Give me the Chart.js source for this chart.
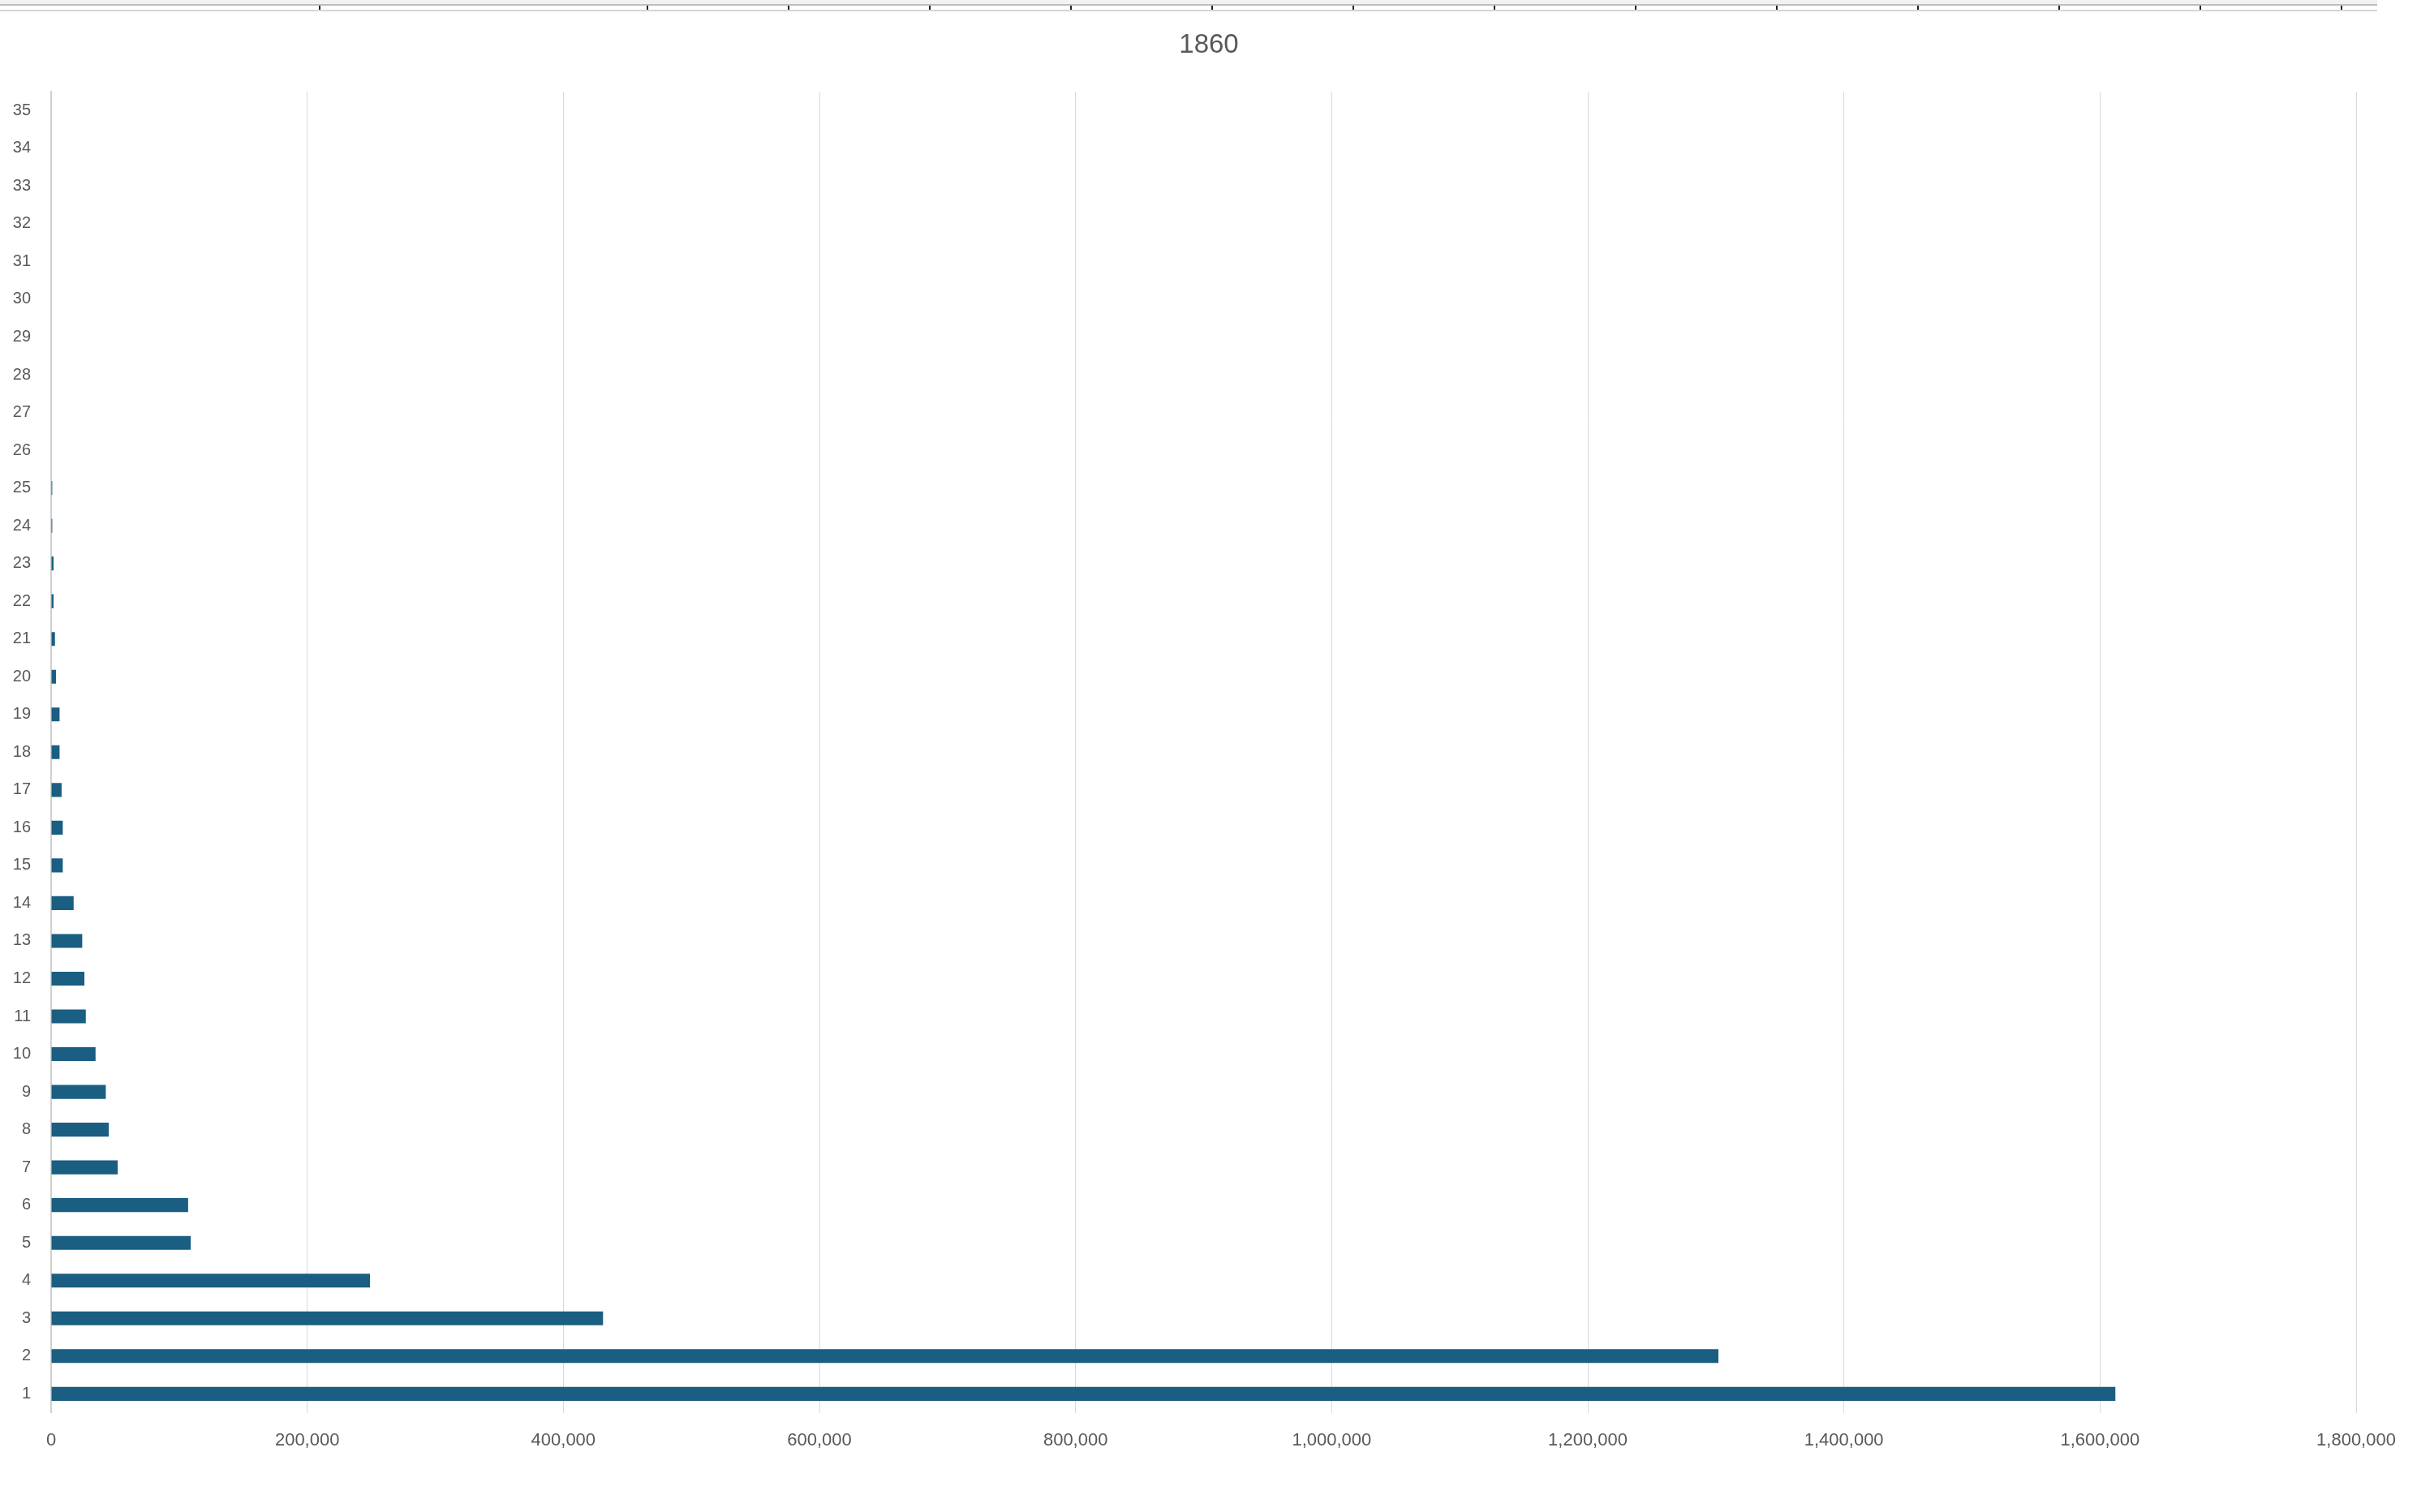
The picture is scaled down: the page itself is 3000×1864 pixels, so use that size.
<!DOCTYPE html>
<html>
<head>
<meta charset="utf-8">
<script src="https://cdn.jsdelivr.net/npm/chart.js@4/dist/chart.umd.min.js"></script>
<style>
    html, body { margin: 0; padding: 0; background: #ffffff; }
    #wrap { position: relative; width: 3000px; height: 1864px; }
    #strip {
        position: absolute; left: 0; top: 0; width: 2930px; height: 14px;
        background: linear-gradient(to bottom, #f2f2f2 0px, #f2f2f2 5px, #bdbdbd 5px, #bdbdbd 7px, #ffffff 7px, #ffffff 12px, #d6d6d6 12px, #d6d6d6 14px);
    }
    #stripTicks {
        position: absolute; left: 797px; top: 7px; width: 2092px; height: 5px;
        background: repeating-linear-gradient(to right, #222 0px, #222 2px, transparent 2px, transparent 174px);
    }
    #stripTick0 { position: absolute; left: 393px; top: 7px; width: 2px; height: 5px; background: #222; }
</style>
</head>
<body>
<div id="wrap">
    <canvas id="barChart" width="3000" height="1864"></canvas>
    <div id="strip"></div>
    <div id="stripTicks"></div>
    <div id="stripTick0"></div>
</div>
<script>
    var chartTitle = '1860';

    var categories = [
        '1', '2', '3', '4', '5', '6', '7', '8', '9', '10',
        '11', '12', '13', '14', '15', '16', '17', '18', '19', '20',
        '21', '22', '23', '24', '25', '26', '27', '28', '29', '30',
        '31', '32', '33', '34', '35'
    ];

    var values = [
        1612000, 1302000, 431000, 249000, 109000, 107000, 52000, 45000, 42700, 34700,
        27100, 26000, 24300, 17600, 9100, 9100, 8200, 6600, 6600, 3800,
        3000, 1900, 1900, 900, 900, 0, 0, 0, 0, 0,
        0, 0, 0, 0, 0
    ];

    var xMin = 0;
    var xMax = 1800000;
    var xStep = 200000;

    function formatTick(value) {
        return Number(value).toLocaleString('en-US');
    }

    // title centred on the whole picture, not on the padded chart box
    var centredTitle = {
        id: 'centredTitle',
        afterDraw: function (chart) {
            var ctx = chart.ctx;
            ctx.save();
            ctx.fillStyle = '#595959';
            ctx.font = '33px "Liberation Sans"';
            ctx.textAlign = 'center';
            ctx.textBaseline = 'middle';
            ctx.fillText(chartTitle, (chart.width - 20) / 2, 56);
            ctx.restore();
        }
    };

    function initBarChart() {
        var canvas = document.getElementById('barChart');
        if (!canvas || typeof Chart === 'undefined') {
            return;
        }

        new Chart(canvas, {
            type: 'bar',
            data: {
                labels: categories,
                datasets: [
                    {
                        label: chartTitle,
                        data: values,
                        backgroundColor: '#1a5e82',
                        borderWidth: 0,
                        barPercentage: 0.46,
                        categoryPercentage: 0.8
                    }
                ]
            },
            options: {
                indexAxis: 'y',
                responsive: false,
                animation: false,
                layout: {
                    padding: { left: 0, right: 96, top: 113, bottom: 54 }
                },
                plugins: {
                    legend: { display: false },
                    tooltip: { enabled: false },
                    title: { display: false }
                },
                scales: {
                    x: {
                        min: xMin,
                        max: xMax,
                        border: { display: false },
                        grid: {
                            color: '#d9d9d9',
                            lineWidth: 1,
                            drawTicks: false
                        },
                        ticks: {
                            stepSize: xStep,
                            color: '#595959',
                            padding: 21,
                            maxRotation: 0,
                            font: { family: 'Liberation Sans', size: 22 },
                            callback: function (value) {
                                return formatTick(value);
                            }
                        }
                    },
                    y: {
                        reverse: true,
                        border: { display: true, color: '#d0d0d0', width: 2 },
                        grid: { display: false, drawTicks: false },
                        afterFit: function (axis) {
                            axis.width = 63;
                        },
                        ticks: {
                            color: '#595959',
                            padding: 25,
                            font: { family: 'Liberation Sans', size: 20 }
                        }
                    }
                }
            },
            plugins: [centredTitle]
        });
    }

    if (document.readyState === 'loading') {
        document.addEventListener('DOMContentLoaded', initBarChart);
    } else {
        initBarChart();
    }
</script>
</body>
</html>
